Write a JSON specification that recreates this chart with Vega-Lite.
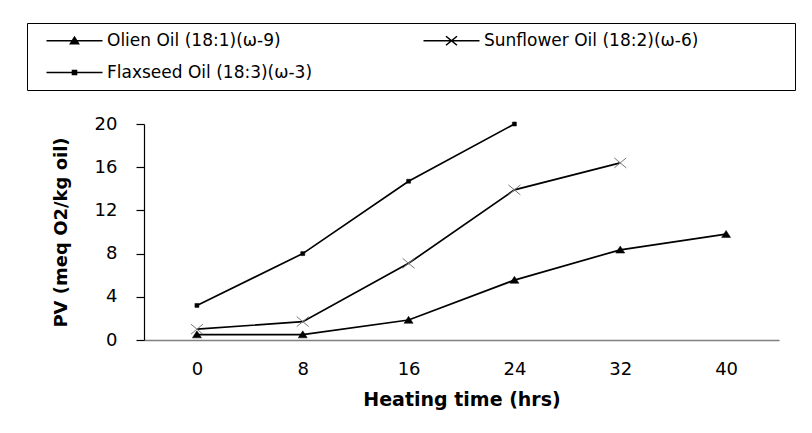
{
  "$schema": "https://vega.github.io/schema/vega-lite/v6.json",
  "width": 635,
  "height": 216,
  "autosize": {"type": "none"},
  "padding": {"left": 144, "top": 124, "right": 33, "bottom": 93},
  "background": "white",
  "data": {
    "values": [
      {"oil": "Olien Oil (18:1)(ω-9)", "time": 0, "pv": 0.5},
      {"oil": "Olien Oil (18:1)(ω-9)", "time": 8, "pv": 0.5},
      {"oil": "Olien Oil (18:1)(ω-9)", "time": 16, "pv": 1.85},
      {"oil": "Olien Oil (18:1)(ω-9)", "time": 24, "pv": 5.55},
      {"oil": "Olien Oil (18:1)(ω-9)", "time": 32, "pv": 8.35},
      {"oil": "Olien Oil (18:1)(ω-9)", "time": 40, "pv": 9.8},
      {"oil": "Sunflower Oil (18:2)(ω-6)", "time": 0, "pv": 1.0},
      {"oil": "Sunflower Oil (18:2)(ω-6)", "time": 8, "pv": 1.7},
      {"oil": "Sunflower Oil (18:2)(ω-6)", "time": 16, "pv": 7.1},
      {"oil": "Sunflower Oil (18:2)(ω-6)", "time": 24, "pv": 13.9},
      {"oil": "Sunflower Oil (18:2)(ω-6)", "time": 32, "pv": 16.4},
      {"oil": "Flaxseed Oil (18:3)(ω-3)", "time": 0, "pv": 3.2},
      {"oil": "Flaxseed Oil (18:3)(ω-3)", "time": 8, "pv": 8.0},
      {"oil": "Flaxseed Oil (18:3)(ω-3)", "time": 16, "pv": 14.7},
      {"oil": "Flaxseed Oil (18:3)(ω-3)", "time": 24, "pv": 20.0}
    ]
  },
  "encoding": {
    "x": {
      "field": "time",
      "type": "ordinal",
      "sort": "ascending",
      "scale": {"type": "point", "padding": 0.5},
      "axis": {
        "title": "Heating time (hrs)",
        "labelAngle": 0,
        "ticks": false,
        "grid": false,
        "domainColor": "#808080",
        "domainWidth": 1.5,
        "labelFont": "DejaVu Sans",
        "labelFontSize": 18,
        "labelColor": "black",
        "labelPadding": 20,
        "titleFont": "DejaVu Sans",
        "titleFontSize": 19,
        "titleFontWeight": "bold",
        "titleColor": "black",
        "titlePadding": 12
      }
    },
    "y": {
      "field": "pv",
      "type": "quantitative",
      "scale": {"domain": [0, 20], "nice": false},
      "axis": {
        "title": "PV (meq O2/kg oil)",
        "values": [0, 4, 8, 12, 16, 20],
        "grid": false,
        "domainColor": "black",
        "domainWidth": 1.2,
        "tickColor": "black",
        "tickSize": 8,
        "tickWidth": 1.2,
        "labelFont": "DejaVu Sans",
        "labelFontSize": 18,
        "labelColor": "black",
        "labelPadding": 19,
        "titleFont": "DejaVu Sans",
        "titleFontSize": 18,
        "titleFontWeight": "bold",
        "titleColor": "black",
        "titlePadding": 24
      }
    }
  },
  "layer": [
    {
      "mark": {"type": "line", "strokeWidth": 1.7},
      "encoding": {
        "color": {
          "field": "oil",
          "type": "nominal",
          "scale": {
            "domain": ["Olien Oil (18:1)(ω-9)", "Sunflower Oil (18:2)(ω-6)", "Flaxseed Oil (18:3)(ω-3)"],
            "range": ["black", "black", "black"]
          },
          "legend": {
            "title": null,
            "orient": "none",
            "legendX": -117,
            "legendY": -101,
            "columns": 2,
            "direction": "horizontal",
            "strokeColor": "black",
            "fillColor": "white",
            "padding": 9,
            "symbolSize": 100,
            "symbolOffset": 30,
            "labelOffset": 24,
            "columnPadding": 100,
            "rowPadding": 14,
            "labelFont": "DejaVu Sans",
            "labelFontSize": 17,
            "labelColor": "black",
            "labelLimit": 0,
            "labelExpr": "datum.value == 'Sunflower Oil (18:2)(ω-6)' ? datum.label + '\u2800\u2800\u2800\u2800\u2800\u2800\u2800' : datum.label",
            "symbolStrokeColor": "black",
            "symbolFillColor": "black",
            "symbolStrokeWidth": 1.6,
            "encoding": {
              "symbols": {
                "shape": {"value": {"expr": "datum.value == 'Olien Oil (18:1)(ω-9)' ? 'M-5.6,0H5.6M-0.8,0.6L0,-0.7L0.8,0.6Z' : datum.value == 'Sunflower Oil (18:2)(ω-6)' ? 'M-5.6,0H5.6M-1.1,-0.9L1.1,0.9M-1.1,0.9L1.1,-0.9' : 'M-5.6,0H5.6M-0.4,-0.4H0.4V0.4H-0.4Z'"}},
                "stroke": {"value": "black"},
                "fill": {"value": "black"},
                "opacity": {"value": 1},
                "strokeWidth": {"value": 1.6}
              }
            }
          }
        }
      }
    },
    {
      "transform": [{"filter": "datum.oil == 'Olien Oil (18:1)(ω-9)'"}],
      "mark": {"type": "point", "filled": true, "shape": "M-0.9,0.65L0,-0.75L0.9,0.65Z", "fill": "black", "stroke": "black", "opacity": 1, "strokeWidth": 0.5, "size": 100}
    },
    {
      "transform": [{"filter": "datum.oil == 'Flaxseed Oil (18:3)(ω-3)'"}],
      "mark": {"type": "point", "filled": true, "shape": "M-0.4,-0.4H0.4V0.4H-0.4Z", "fill": "black", "stroke": "black", "opacity": 1, "strokeWidth": 0.5, "size": 100}
    },
    {
      "transform": [{"filter": "datum.oil == 'Sunflower Oil (18:2)(ω-6)'"}],
      "mark": {"type": "point", "filled": false, "shape": "M-1.2,-1L1.2,1M-1.2,1L1.2,-1", "stroke": "#7a7a7a", "opacity": 1, "strokeWidth": 1, "size": 100}
    }
  ],
  "config": {"view": {"stroke": null}}
}
